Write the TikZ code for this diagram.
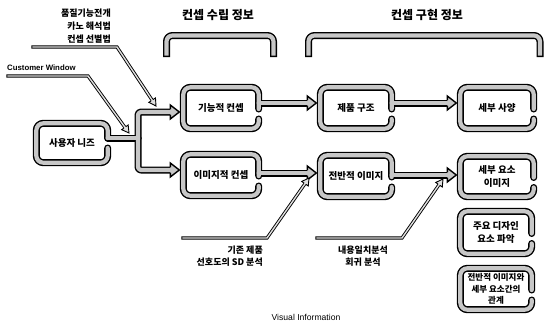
\documentclass[tikz,border=0pt]{standalone}
\usepackage{fontspec}
\setmainfont{Noto Sans CJK KR}
\newfontfamily\latfont{Liberation Sans}
\usetikzlibrary{calc}
\definecolor{bandgray}{gray}{0.78}
\definecolor{thingray}{gray}{0.88}
\tikzset{
  bandout/.style={draw=black, line width=7pt, line cap=round, line join=round},
  bandin/.style={draw=bandgray, line width=4.2pt, line cap=round, line join=round},
  thinout/.style={draw=black, line width=3.2pt, line cap=rect, line join=miter},
  thinin/.style={draw=thingray, line width=1.4pt, line cap=rect, line join=miter},
  box/.style={rectangle, inner sep=0pt, align=center, minimum width=#1, minimum height=41pt, font=\fontsize{9.5}{13.5}\selectfont\bfseries},
  hdr/.style={font=\fontsize{12}{14}\selectfont\bfseries, inner sep=0pt},
  ann/.style={font=\fontsize{9}{13}\selectfont\bfseries, inner sep=0pt},
  bhead/.pic={\filldraw[fill=bandgray, draw=black, line width=1.4pt, line join=miter] (-9,2.8) -- (-9,7) -- (0,0) -- (-9,-7) -- (-9,-2.8);},
  shead/.pic={\filldraw[fill=thingray, draw=black, line width=0.9pt, line join=miter] (-7,1.15) -- (-7,4) -- (0,0) -- (-7,-4) -- (-7,-1.15);},
}
\newcommand\boxband[2]{%
  \draw[#1, rounded corners=7pt] ($(#2.east)+(0,11)$) -- (#2.south east) -- (#2.south west) -- (#2.north west) -- (#2.north east) -- ($(#2.east)+(0,1)$);}
\newcommand\widebands[1]{%
  \boxband{#1}{fc}\boxband{#1}{pc}\boxband{#1}{ds}
  \boxband{#1}{ic}\boxband{#1}{oi}\boxband{#1}{de}
  \boxband{#1}{kd}\boxband{#1}{rel}
  \draw[#1, rounded corners=7pt] ($(un.east)+(0,5)$) -- (un.south east) -- (un.south west) -- (un.north west) -- (un.north east) -- (ts);
  \draw[#1] (ts) -- (J);
  \draw[#1, rounded corners=3pt] (J) |- (t1b);
  \draw[#1, rounded corners=3pt] (J) |- (t2b);
  \draw[#1] (a1s) -- (a1b);
  \draw[#1] (a2s) -- (a2b);
  \draw[#1] (a3s) -- (a3b);
  \draw[#1] (a4s) -- (a4b);
  \draw[#1, line cap=rect, rounded corners=6pt] (166.5,53.5) -- (166.5,35.5) -- (273.5,35.5) -- (273.5,53.5);
  \draw[#1, line cap=rect, rounded corners=6pt] (308.5,53.5) -- (308.5,35.5) -- (540,35.5) -- (540,53.5);
}
\newcommand\thinbands[1]{%
  \draw[#1] (q0) -- (q1) -- (q1b);
  \draw[#1] (c0) -- (c1) -- (c1b);
  \draw[#1] (s0) -- (s1) -- (s1b);
  \draw[#1] (n0) -- (n1) -- (n1b);
}
\begin{document}
\begin{tikzpicture}[x=1pt, y=-1pt]
\fill[white] (0,0) rectangle (545,327);
\useasboundingbox (0,0) rectangle (545,327);

% headers
\node[hdr] (h1) at (218,15) {컨셉 수립 정보};
\node[hdr] (h2) at (427,15) {컨셉 구현 정보};

% boxes
\node[box=71pt, minimum height=39pt] (un) at (72,143) {사용자 니즈};
\node[box=75pt] (fc) at (221,108) {기능적 컨셉};
\node[box=71pt] (pc) at (356,108) {제품 구조};
\node[box=73pt] (ds) at (497,108) {세부 사양};
\node[box=75pt] (ic) at (221,175) {이미지적 컨셉};
\node[box=71pt] (oi) at (356,176) {전반적 이미지};
\node[box=73pt, minimum height=40pt] (de) at (497,176.5) {세부 요소\\이미지};
\node[box=71pt, minimum height=42pt] (kd) at (496,232.5) {주요 디자인\\요소 파악};
\node[box=71pt, font=\fontsize{8.5}{11.5}\selectfont\bfseries] (rel) at (496,289) {전반적 이미지와\\세부 요소간의\\관계};

% annotations
\node[ann, align=right, anchor=east] (qfd) at (111,26) {품질기능전개\\카노 해석법\\컨셉 선별법};
\node[anchor=west, inner sep=0pt, font=\latfont\bfseries\fontsize{7.8}{10}\selectfont] (cw) at (7,68) {Customer Window};
\node[ann, align=right, anchor=east, font=\fontsize{9}{12.5}\selectfont\bfseries] (sd) at (263,256) {기존 제품\\선호도의 SD 분석};
\node[ann, align=center, font=\fontsize{9}{12.5}\selectfont\bfseries] (ca) at (363,256) {내용일치분석\\회귀 분석};
\node[inner sep=0pt, font=\latfont\fontsize{8.6}{10}\selectfont] (vi) at (306,317) {Visual Information};

% connector coordinates
\coordinate (ts) at ($(un.east)+(0,-5)$);
\coordinate (J) at (138,138);
\coordinate (t1) at ($(fc.west)+(-4,4)$);
\coordinate (t2) at ($(ic.west)+(-4,-5)$);
\coordinate (t1b) at ($(t1)+(-9,0)$);
\coordinate (t2b) at ($(t2)+(-9,0)$);
\coordinate (a1s) at ($(fc.east)+(0,-5)$);
\coordinate (a1t) at ($(pc.west)+(-4,-5)$);
\coordinate (a2s) at ($(pc.east)+(0,-5)$);
\coordinate (a2t) at ($(ds.west)+(-4,-5)$);
\coordinate (a3s) at ($(ic.east)+(0,-2)$);
\coordinate (a3t) at ($(oi.west)+(-4,-3)$);
\coordinate (a4s) at ($(oi.east)+(0,-1)$);
\coordinate (a4t) at ($(de.west)+(-4,-1.5)$);
\foreach \k in {a1,a2,a3,a4} {\coordinate (\k b) at ($(\k t)+(-9,0)$);}

\coordinate (q0) at (33,47);
\coordinate (q1) at (117,47);
\coordinate (q1t) at (156,106);
\coordinate (c0) at (8,76);
\coordinate (c1) at (88,76);
\coordinate (c1t) at (129,133);
\coordinate (s0) at (183,238);
\coordinate (s1) at (267,238);
\coordinate (s1t) at (309,178);
\coordinate (n0) at (317,238);
\coordinate (n1) at (402,238);
\coordinate (n1t) at (443,179);
\foreach \k in {q,c,s,n} {\coordinate (\k1b) at ($(\k1t)!7pt!(\k1)$);}

% drawing passes
\widebands{bandout}
\thinbands{thinout}
\pic at (t1) {bhead};
\pic at (t2) {bhead};
\pic at (a1t) {bhead};
\pic at (a2t) {bhead};
\pic at (a3t) {bhead};
\pic at (a4t) {bhead};
\pic[rotate=-56.5] at (q1t) {shead};
\pic[rotate=-54.3] at (c1t) {shead};
\pic[rotate=55.0] at (s1t) {shead};
\pic[rotate=55.2] at (n1t) {shead};
\widebands{bandin}
\thinbands{thinin}
\end{tikzpicture}
\end{document}
